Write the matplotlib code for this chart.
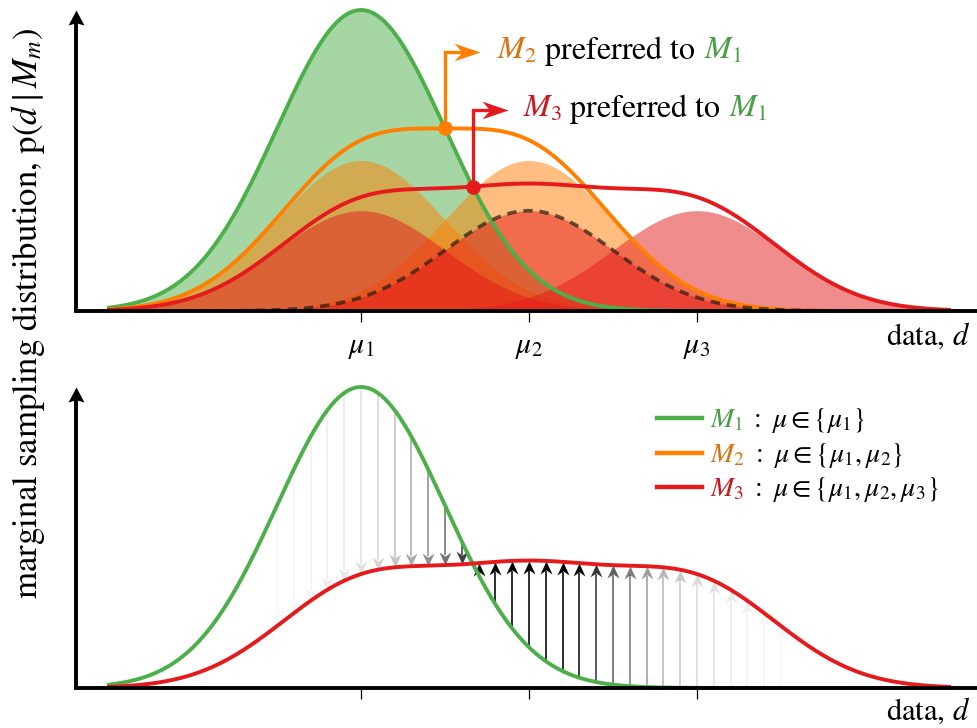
import numpy as np
import matplotlib
matplotlib.use("Agg")
import matplotlib.pyplot as plt
from matplotlib.path import Path
from matplotlib.markers import MarkerStyle
from matplotlib.transforms import offset_copy, Affine2D
from matplotlib.lines import Line2D

plt.rcParams['font.family'] = 'serif'
plt.rcParams['font.serif'] = ['STIXGeneral', 'Liberation Serif', 'DejaVu Serif']
plt.rcParams['mathtext.fontset'] = 'stix'

# ---------------- data ----------------
mu = [0.0, 1.0, 2.0]              # component means mu1, mu2, mu3
sigma = 0.5                       # common width
d_range = [-1.5, 3.5]             # extent of the drawn curves
tick_labels = [r"$\mu_1$", r"$\mu_2$", r"$\mu_3$"]
# bottom-panel arrows: positions and grey intensity
arrow_d = [-0.5, -0.4, -0.3, -0.2, -0.1, 0.0, 0.1, 0.2, 0.3, 0.4, 0.5, 0.6,
           0.7, 0.8, 0.9, 1.0, 1.1, 1.2, 1.3, 1.4, 1.5, 1.6, 1.7, 1.8, 1.9,
           2.0, 2.1, 2.2, 2.3, 2.4, 2.5]
arrow_alpha = [0.03, 0.04, 0.05, 0.07, 0.09, 0.12, 0.17, 0.24, 0.33, 0.43, 0.55, 0.75,
               0.95, 1.0, 1.0, 1.0, 1.0, 1.0, 0.95, 0.78, 0.62, 0.5, 0.38, 0.28, 0.21,
               0.15, 0.11, 0.08, 0.06, 0.045, 0.03]

GREEN, ORANGE, RED = '#4daf4a', '#ff7f00', '#e41a1c'
GREEN_T, ORANGE_T, RED_T = '#4a9e46', '#d9730f', '#c9181e'

def comp(x, m):
    return np.exp(-0.5 * ((np.asarray(x) - m) / sigma) ** 2)

def M1f(x):
    return comp(x, mu[0])

def M2f(x):
    return (comp(x, mu[0]) + comp(x, mu[1])) / 2

def M3f(x):
    return (comp(x, mu[0]) + comp(x, mu[1]) + comp(x, mu[2])) / 3

d = np.linspace(d_range[0], d_range[1], 800)

# ---------------- figure ----------------
W, H = 977, 728
fig = plt.figure(figsize=(W / 100, H / 100), dpi=100)
PXU = 301.0          # pixels per y unit
PXX = 168.0          # pixels per x unit
x0_px, xmu1_px = 76, 361
xlim = ((x0_px - xmu1_px) / PXX, (W - xmu1_px) / PXX)
ax_h_px = 306
ylim = (0, ax_h_px / PXU)

ax_top = fig.add_axes([x0_px / W, (H - 311) / H, (W - x0_px) / W, ax_h_px / H])
ax_bot = fig.add_axes([x0_px / W, (H - 688) / H, (W - x0_px) / W, ax_h_px / H])


def head_marker(angle, notch=0.7, half_w=0.35):
    verts = np.array([[0, 0], [-1, half_w], [-notch, 0], [-1, -half_w], [0, 0]])
    codes = [Path.MOVETO, Path.LINETO, Path.LINETO, Path.LINETO, Path.CLOSEPOLY]
    p = Path(verts, codes).transformed(Affine2D().rotate_deg(angle))
    return MarkerStyle(p)


for ax in (ax_top, ax_bot):
    ax.set_xlim(*xlim)
    ax.set_ylim(*ylim)
    ax.patch.set_alpha(0)
    for s in ('top', 'right', 'left'):
        ax.spines[s].set_visible(False)
    ax.spines['bottom'].set_linewidth(2.8)
    ax.spines['bottom'].set_zorder(20)
    ax.set_yticks([])
    ax.set_xticks(mu)
    ax.tick_params(axis='x', direction='out', length=8, width=0.9, pad=8,
                   labelsize=21.5)
    # vertical axis with arrow head
    hl = 15 / PXU
    ax.plot([xlim[0], xlim[0]], [0, 1.0 - 0.8 * hl], color='k', lw=2.8,
            clip_on=False, zorder=20, solid_capstyle='butt')
    ax.plot([xlim[0]], [1.0], marker=head_marker(90, notch=0.85, half_w=0.53),
            ms=21.6, mew=0, color='k', clip_on=False, zorder=21)

ax_top.set_xticklabels(tick_labels)
ax_bot.set_xticklabels([])

# ---------------- top panel ----------------
ax_top.fill_between(d, 0, M1f(d), color=GREEN, alpha=0.5, lw=0, zorder=1)
for m in mu[:2]:
    ax_top.fill_between(d, 0, comp(d, m) / 2, color=ORANGE, alpha=0.5, lw=0, zorder=2)
for m in mu:
    ax_top.fill_between(d, 0, comp(d, m) / 3, color=RED, alpha=0.5, lw=0, zorder=3)

ax_top.plot(d, M1f(d), color=GREEN, lw=2.8, zorder=5, clip_on=False)
ax_top.plot(d, M2f(d), color=ORANGE, lw=2.8, zorder=6)
ax_top.plot(d, M3f(d), color=RED, lw=2.8, zorder=7)
ax_top.plot(d, comp(d, mu[1]) / 3, color='#2a1a10', alpha=0.7, lw=2.6,
            dashes=(2.6, 1.9), zorder=8)

# crossing points
x_or = 0.5 * (mu[0] + mu[1])
grid = np.linspace(mu[0], mu[1], 20001)
x_rd = grid[np.argmin(np.abs(M1f(grid) - M3f(grid)))]
y_or, y_rd = float(M1f(x_or)), float(M1f(x_rd))

ann = [(x_or, y_or, (311 - 52) / PXU, (480 - xmu1_px) / PXX, ORANGE),
       (x_rd, y_rd, (311 - 110) / PXU, (508 - xmu1_px) / PXX, RED)]
for xa, ya, ytop, xend, col in ann:
    hlx = 26 / PXX
    ax_top.plot([xa, xa, xend - 0.7 * hlx], [ya, ytop, ytop], color=col, lw=2.4,
                solid_joinstyle='miter', solid_capstyle='butt', zorder=10,
                clip_on=False)
    ax_top.plot([xend], [ytop], marker=head_marker(0, notch=0.7, half_w=0.34),
                ms=2 * 26 * 0.72, mew=0, color=col, zorder=11, clip_on=False)
    ax_top.plot([xa], [ya], 'o', ms=10.5, color=col, mew=0, zorder=12)

# ---------------- bottom panel ----------------
ax_bot.plot(d, M1f(d), color=GREEN, lw=2.8, zorder=5, clip_on=False)
ax_bot.plot(d, M3f(d), color=RED, lw=2.8, zorder=6)

ahl_px = 13
ahl = ahl_px / PXU
for xa, al in zip(arrow_d, arrow_alpha):
    y1, y3 = float(M1f(xa)), float(M3f(xa))
    sgn = 1 if y3 > y1 else -1
    yend = y3 - sgn * 0.75 * ahl
    if (yend - y1) * sgn > 0:
        ax_bot.plot([xa, xa], [y1, yend], color='k', alpha=al, lw=1.15,
                    solid_capstyle='butt', zorder=3)
    ax_bot.plot([xa], [y3], marker=head_marker(90 if sgn > 0 else -90,
                                               notch=0.68, half_w=0.46),
                ms=2 * ahl_px * 0.72, mew=0, color='k', alpha=al, zorder=3)

# ---------------- texts ----------------
renderer = fig.canvas.get_renderer()


def rich_text(xp, yp, pieces, size):
    off = 0.0
    for s, c, gap in pieces:
        tr = offset_copy(fig.transFigure, fig=fig, x=off, y=0, units='dots')
        t = fig.text(xp / W, 1 - yp / H, s, color=c, fontsize=size,
                     transform=tr, ha='left', va='baseline')
        off += t.get_window_extent(renderer).width + gap


rich_text(497, 59, [(r"$M_2$", ORANGE_T, 0), (r"$\ $preferred to", 'k', 8),
                    (r"$M_1$", GREEN_T, 0)], 23)
rich_text(523, 117, [(r"$M_3$", RED_T, 0), (r"$\ $preferred to", 'k', 8),
                     (r"$M_1$", GREEN_T, 0)], 23)

leg = [(418, 427, GREEN, GREEN_T, r"$M_1$", r"$\ :\ \mu \in \{\mu_1\}$"),
       (453, 462, ORANGE, ORANGE_T, r"$M_2$", r"$\ :\ \mu \in \{\mu_1, \mu_2\}$"),
       (487, 496, RED, RED_T, r"$M_3$", r"$\ :\ \mu \in \{\mu_1, \mu_2, \mu_3\}$")]
for yl, yb, lc, tc, lab, rest in leg:
    fig.add_artist(Line2D([657 / W, 702 / W], [1 - yl / H, 1 - yl / H],
                          color=lc, lw=3.2, transform=fig.transFigure))
    rich_text(710, yb, [(lab, tc, 0), (rest, 'k', 0)], 20)

fig.text(970 / W, 1 - 345 / H, r"data, $d$", ha='right', va='baseline', fontsize=22)
fig.text(970 / W, 1 - 720 / H, r"data, $d$", ha='right', va='baseline', fontsize=22)
fig.text(28 / W, 1 - 313 / H, r"marginal sampling distribution, p($d\mid M_m$)",
         rotation=90, ha='center', va='center', fontsize=25)

fig.savefig("out.png", dpi=100)
